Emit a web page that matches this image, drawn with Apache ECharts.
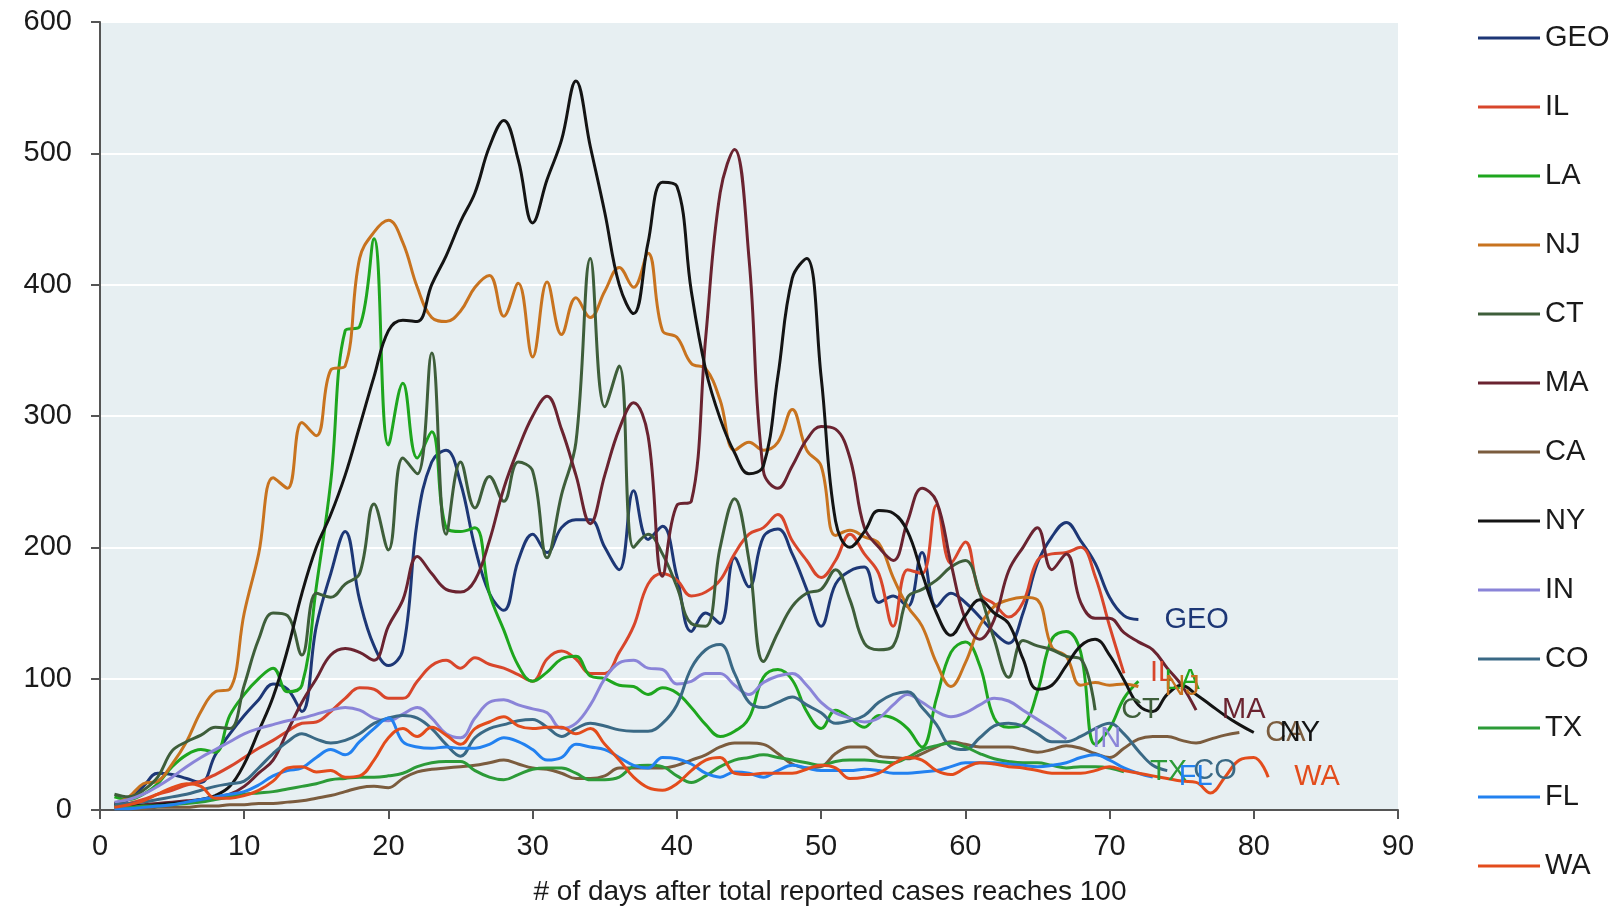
<!DOCTYPE html>
<html>
<head>
<meta charset="utf-8">
<script src="https://cdn.jsdelivr.net/npm/echarts@6/dist/echarts.min.js"></script>
<style>
html, body { margin: 0; background: #fff; }
#diagram { width: 1621px; height: 907px; }
</style>
</head>
<body>
<div id="diagram"></div>
<script>
// daily values, first entry is day 1
var states = ["GEO", "IL", "LA", "NJ", "CT", "MA", "CA", "NY", "IN", "CO", "TX", "FL", "WA"];
var colors = ["#1d3776", "#d8462b", "#1ea61e", "#c8731f", "#3e5e3a", "#6a2330", "#7b5c3e", "#141414", "#8a84d8", "#3a6985", "#2c9b38", "#2281f0", "#e34c1c"];

var geo = [5, 8, 18, 28, 27, 24, 21, 42, 58, 72, 84, 96, 92, 75, 140, 180, 212, 160, 125, 110,
  122, 220, 265, 274, 249, 200, 165, 152, 190, 210, 196, 215, 221, 221, 200, 183, 243, 206, 216, 178,
  136, 150, 142, 192, 170, 208, 214, 195, 168, 140, 172, 182, 185, 158, 163, 155, 196, 155, 165, 158,
  147, 135, 127, 150, 188, 208, 219, 205, 188, 162, 148, 145];
var il = [3, 5, 8, 12, 15, 19, 22, 27, 33, 40, 47, 53, 60, 66, 67, 75, 85, 93, 92, 85,
  85, 98, 110, 114, 108, 116, 111, 108, 103, 98, 115, 121, 115, 104, 104, 120, 140, 172, 180, 175,
  163, 166, 175, 195, 210, 215, 225, 205, 190, 177, 190, 210, 195, 180, 140, 183, 180, 232, 188, 204,
  165, 157, 147, 158, 190, 195, 196, 200, 178, 140, 104];
var la = [10, 8, 12, 20, 33, 42, 46, 44, 72, 88, 100, 108, 90, 95, 170, 250, 365, 368, 435, 278,
  325, 268, 288, 215, 212, 215, 165, 137, 110, 98, 105, 115, 117, 102, 100, 95, 94, 88, 93, 89,
  78, 65, 56, 60, 70, 101, 107, 99, 75, 62, 76, 70, 63, 72, 70, 62, 48, 85, 120, 128,
  110, 70, 63, 65, 90, 130, 136, 120, 50, 62, 85, 98];
var nj = [5, 10, 20, 22, 35, 52, 75, 90, 92, 150, 195, 253, 245, 295, 285, 335, 338, 420, 440, 449,
  432, 398, 375, 372, 380, 398, 407, 376, 401, 345, 402, 362, 390, 375, 395, 413, 398, 424, 365, 360,
  340, 336, 312, 274, 280, 274, 280, 305, 274, 262, 209, 213, 208, 203, 177, 155, 140, 112, 94, 112,
  140, 155, 160, 162, 160, 124, 117, 95, 97, 95, 96, 94];
var ct = [12, 10, 15, 25, 45, 52, 57, 63, 62, 95, 130, 150, 148, 118, 165, 162, 172, 180, 233, 198,
  268, 256, 348, 210, 265, 230, 254, 235, 265, 258, 192, 240, 280, 420, 307, 338, 200, 210, 195, 170,
  142, 140, 200, 237, 190, 113, 135, 155, 165, 168, 183, 160, 127, 122, 125, 162, 168, 175, 185, 190,
  165, 130, 101, 129, 125, 122, 117, 115, 76];
var ma = [3, 3, 4, 5, 6, 7, 8, 10, 12, 18, 28, 38, 60, 82, 100, 118, 123, 120, 114, 140,
  160, 193, 180, 168, 166, 175, 205, 245, 275, 300, 315, 290, 255, 218, 255, 290, 310, 285, 178, 232,
  235, 360, 470, 503, 420, 258, 245, 262, 282, 292, 290, 268, 215, 200, 190, 220, 245, 235, 188, 145,
  130, 145, 182, 200, 215, 183, 195, 158, 146, 146, 135, 128, 122, 108, 95, 76];
var ca = [1, 1, 1, 2, 2, 2, 3, 3, 4, 4, 5, 5, 6, 7, 9, 11, 14, 17, 18, 17,
  24, 29, 31, 32, 33, 34, 36, 38, 35, 32, 31, 28, 24, 24, 26, 32, 32, 32, 32, 34,
  38, 42, 48, 51, 51, 50, 43, 35, 32, 33, 43, 48, 48, 41, 40, 39, 43, 48, 52, 50,
  48, 48, 48, 46, 44, 46, 49, 47, 43, 40, 47, 54, 56, 56, 53, 51, 54, 57, 59];
var ny = [5, 4, 3, 4, 5, 6, 8, 11, 18, 35, 60, 86, 122, 165, 200, 225, 255, 292, 330, 365,
  373, 372, 400, 422, 448, 470, 505, 525, 495, 447, 480, 510, 555, 505, 455, 400, 378, 432, 478, 475,
  395, 335, 298, 272, 256, 262, 330, 405, 420, 330, 220, 200, 212, 228, 226, 212, 180, 150, 133, 148,
  160, 150, 142, 115, 92, 95, 110, 125, 130, 118, 99, 80, 75, 88, 95, 88, 80, 72, 65, 59];
var ind = [6, 8, 12, 18, 25, 33, 40, 46, 52, 58, 62, 65, 68, 70, 73, 76, 78, 76, 70, 68,
  73, 78, 70, 58, 55, 70, 82, 84, 80, 77, 74, 62, 66, 80, 100, 112, 114, 108, 107, 96,
  98, 104, 104, 95, 88, 97, 102, 104, 95, 82, 74, 70, 67, 70, 80, 88, 82, 75, 71, 74,
  80, 85, 83, 76, 69, 62, 54];
var co = [4, 5, 6, 8, 10, 12, 15, 18, 20, 22, 32, 43, 52, 58, 54, 51, 53, 58, 66, 70,
  72, 70, 62, 50, 41, 55, 62, 65, 68, 69, 63, 56, 62, 66, 64, 61, 60, 60, 66, 80,
  108, 122, 126, 104, 82, 78, 82, 86, 80, 74, 66, 68, 72, 82, 88, 90, 78, 65, 48, 46,
  55, 64, 66, 64, 58, 52, 52, 56, 62, 66, 58, 45, 34, 30];
var tx = [2, 2, 3, 3, 4, 5, 6, 8, 10, 12, 13, 14, 16, 18, 20, 23, 24, 25, 25, 26,
  28, 33, 36, 37, 37, 30, 25, 23, 27, 31, 32, 32, 28, 23, 23, 25, 33, 34, 33, 26,
  21, 26, 33, 38, 40, 42, 40, 38, 36, 34, 37, 38, 38, 37, 36, 40, 46, 49, 51, 48,
  43, 39, 37, 36, 36, 34, 32, 33, 33, 32, 29];
var fl = [1, 1, 2, 3, 4, 6, 8, 10, 12, 14, 19, 26, 30, 32, 40, 46, 42, 52, 62, 70,
  52, 48, 47, 48, 47, 47, 50, 55, 52, 46, 38, 40, 50, 48, 46, 40, 34, 32, 40, 39,
  35, 28, 25, 29, 28, 25, 30, 34, 32, 30, 30, 30, 31, 30, 28, 28, 29, 30, 33, 36,
  36, 36, 35, 34, 33, 34, 36, 40, 42, 38, 32, 28, 25];
var wa = [2, 4, 7, 12, 17, 20, 18, 9, 9, 11, 15, 22, 32, 33, 29, 30, 25, 26, 38, 55,
  62, 56, 63, 57, 50, 62, 67, 71, 64, 62, 63, 63, 58, 62, 50, 38, 25, 17, 15, 20,
  30, 38, 40, 28, 27, 28, 28, 28, 31, 34, 32, 24, 25, 28, 35, 40, 38, 30, 27, 32,
  36, 35, 33, 32, 30, 28, 28, 28, 30, 33, 30, 28, 26, 24, 22, 21, 13, 25, 38, 40, 25];

var values = [geo, il, la, nj, ct, ma, ca, ny, ind, co, tx, fl, wa];
var yTicks = [0, 100, 200, 300, 400, 500, 600];
var xTicks = [0, 10, 20, 30, 40, 50, 60, 70, 80, 90];

var font = "'Liberation Sans', Arial, sans-serif";

var series = states.map(function (name, k) {
  return {
    name: name,
    type: "line",
    data: values[k].map(function (v, i) { return [i + 1, v]; }),
    smooth: 0.4,
    symbol: "none",
    color: colors[k],
    lineStyle: { width: 3, color: colors[k] },
    endLabel: {
      show: true,
      formatter: "{a}",
      color: colors[k],
      fontSize: 29,
      fontFamily: font,
      distance: 26
    }
  };
});

var myChart = echarts.init(document.getElementById("diagram"));
var option = {
  animation: false,
  textStyle: { fontFamily: font },
  grid: {
    left: 100,
    right: 223,
    top: 22,
    bottom: 97,
    outerBoundsMode: "none",
    show: true,
    backgroundColor: "#e7eff2",
    borderWidth: 0
  },
  legend: {
    orient: "vertical",
    left: 1473,
    top: 18,
    icon: "rect",
    itemWidth: 62,
    itemHeight: 3,
    itemGap: 39,
    data: states,
    textStyle: { fontSize: 29, color: "#1a1a1a", lineHeight: 30, fontFamily: font }
  },
  xAxis: {
    type: "value",
    min: xTicks[0],
    max: xTicks[xTicks.length - 1],
    interval: 10,
    name: "# of days after total reported cases reaches 100",
    nameLocation: "middle",
    nameGap: 68,
    nameTextStyle: { fontSize: 28, color: "#1a1a1a", padding: [0, 0, 0, 162] },
    axisLine: { lineStyle: { color: "#555", width: 2 } },
    axisTick: { show: true, length: 9, lineStyle: { color: "#555", width: 2 } },
    axisLabel: { fontSize: 29, color: "#1a1a1a", margin: 22 },
    splitLine: { show: false }
  },
  yAxis: {
    type: "value",
    min: yTicks[0],
    max: yTicks[yTicks.length - 1],
    interval: 100,
    axisLine: { show: true, lineStyle: { color: "#555", width: 2 } },
    axisTick: { show: true, length: 9, lineStyle: { color: "#555", width: 2 } },
    axisLabel: { fontSize: 29, color: "#1a1a1a", margin: 28 },
    splitLine: { show: true, lineStyle: { color: "#ffffff", width: 2 } }
  },
  series: series
};
myChart.setOption(option);
</script>
</body>
</html>
